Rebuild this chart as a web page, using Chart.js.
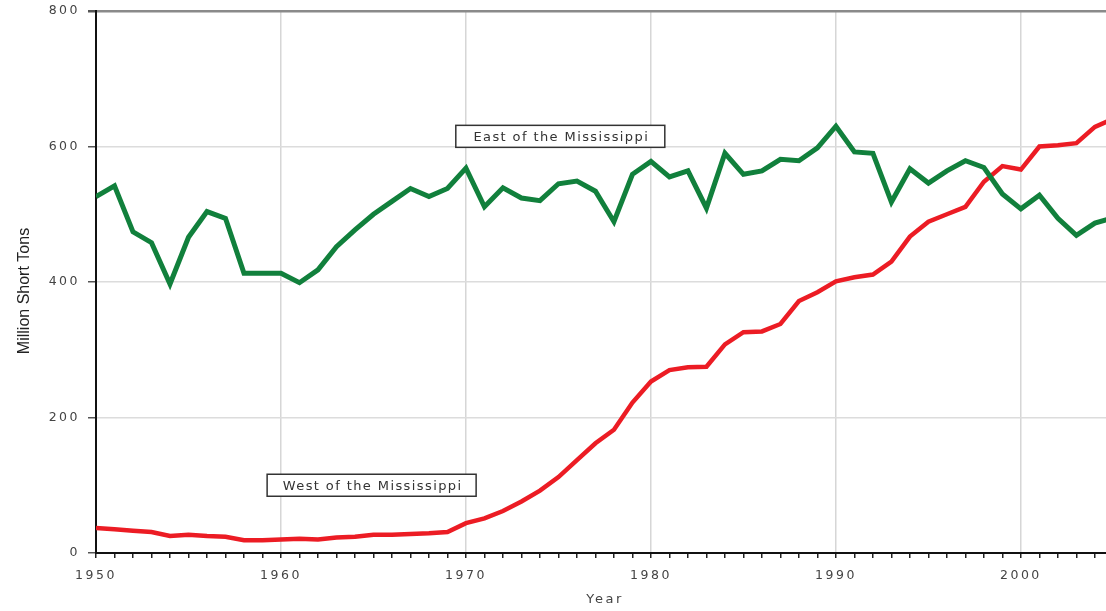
<!DOCTYPE html>
<html>
<head>
<meta charset="utf-8">
<script src="https://cdn.jsdelivr.net/npm/chart.js@4/dist/chart.umd.min.js"></script>
<style>
  html, body { margin: 0; padding: 0; background: #fff; }
  #wrap { position: relative; width: 1106px; height: 611px; }
</style>
</head>
<body>
<div id="wrap"><canvas id="c"></canvas></div>
<script>
/* coal production east / west of the Mississippi, million short tons */
const years = [];
for (let y = 1950; y <= 2005; y++) years.push(y);

const east = [526, 542, 474, 458, 397, 466, 504, 494, 413, 413,
              413, 399, 418, 452, 477, 500, 519, 538, 526, 538,
              568, 511, 539, 524, 520, 545, 549, 534, 489, 559,
              578, 555, 564, 509, 590, 559, 564, 581, 579, 598,
              630, 592, 590, 518, 567, 546, 564, 579, 569, 530,
              508, 528, 494, 469, 487, 495];

const west = [37, 35, 33, 31, 25, 27, 25, 24, 19, 19,
              20, 21, 20, 23, 24, 27, 27, 28, 29, 31,
              44, 51, 62, 76, 92, 112, 137, 162, 182, 222,
              253, 270, 274, 275, 308, 326, 327, 338, 372, 385,
              401, 407, 411, 430, 467, 489, 500, 511, 548, 571,
              566, 600, 602, 605, 629, 641];

const xLabels = [1950, 1960, 1970, 1980, 1990, 2000];
const yTicks = [0, 200, 400, 600, 800];

// boxed series labels, placed in data coordinates
const seriesLabels = [
  { text: 'East of the Mississippi', x: 1975.1, y: 615 },
  { text: 'West of the Mississippi', x: 1964.9, y: 100 },
];

const SANS = '"DejaVu Sans", Verdana, sans-serif';
const TICK_FONT = { family: SANS, size: 12.5 };

// wide lettering like the source image (tick labels)
const spacing = {
  id: 'spacing',
  beforeDraw(chart) { chart.ctx.letterSpacing = '2.5px'; },
};

// axis titles + boxed labels, drawn by hand so the spacing can differ
const extras = {
  id: 'extras',
  afterDraw(chart) {
    const ctx = chart.ctx, xs = chart.scales.x, ys = chart.scales.y, a = chart.chartArea;
    ctx.save();
    ctx.textAlign = 'center';
    ctx.textBaseline = 'middle';

    ctx.letterSpacing = '2.5px';
    ctx.fillStyle = '#444';
    ctx.font = '13px ' + SANS;
    ctx.fillText('Year', (a.left + a.right) / 2 + 4, 600);

    ctx.letterSpacing = '0px';
    ctx.fillStyle = '#222';
    ctx.font = '16px "Liberation Sans Narrow", "Arial Narrow", "Liberation Sans", sans-serif';
    ctx.save();
    ctx.translate(25, 291);
    ctx.rotate(-Math.PI / 2);
    ctx.fillText('Million Short Tons', 0, 0);
    ctx.restore();

    ctx.letterSpacing = '1.4px';
    ctx.font = '13px ' + SANS;
    seriesLabels.forEach(function (l) {
      const cx = xs.getPixelForValue(l.x), cy = ys.getPixelForValue(l.y);
      const w = 209, h = 22;
      ctx.fillStyle = '#fff';
      ctx.fillRect(cx - w / 2, cy - h / 2, w, h);
      ctx.strokeStyle = '#333';
      ctx.lineWidth = 1.5;
      ctx.strokeRect(cx - w / 2, cy - h / 2, w, h);
      ctx.fillStyle = '#333';
      ctx.fillText(l.text, cx + 1, cy + 1);
    });
    ctx.restore();
  },
};

new Chart(document.getElementById('c'), {
  type: 'line',
  data: {
    labels: years,
    datasets: [
      { label: 'East of the Mississippi', data: years.map(function (y, i) { return { x: y, y: east[i] }; }),
        borderColor: '#11803c', borderWidth: 5, pointRadius: 0, tension: 0 },
      { label: 'West of the Mississippi', data: years.map(function (y, i) { return { x: y, y: west[i] }; }),
        borderColor: '#ec1c24', borderWidth: 4.5, pointRadius: 0, tension: 0 },
    ],
  },
  options: {
    responsive: true,
    maintainAspectRatio: false,
    animation: false,
    layout: { padding: { top: 11, right: 0, left: 0, bottom: 0 } },
    plugins: { legend: { display: false }, tooltip: { enabled: false } },
    scales: {
      x: {
        type: 'linear',
        min: 1950, max: 2004.6,
        afterFit: function (s) { s.height = 58; s.paddingLeft = 0; s.paddingRight = 0; },
        ticks: {
          stepSize: 1, autoSkip: false, maxRotation: 0, includeBounds: false,
          color: '#444', font: TICK_FONT, padding: 10,
          callback: function (v) { return xLabels.indexOf(v) >= 0 ? String(v) : ''; },
        },
        grid: {
          color: function (c) { return c.tick && xLabels.indexOf(c.tick.value) >= 0 ? '#d6d6d6' : 'rgba(0,0,0,0)'; },
          lineWidth: 1.5, tickColor: '#222', tickLength: 5, tickWidth: 1.5,
        },
        border: { display: true, color: '#111', width: 2 },
      },
      y: {
        min: 0, max: 800,
        afterFit: function (s) { s.width = 96; s.paddingTop = 0; s.paddingBottom = 0; },
        afterBuildTicks: function (s) { s.ticks = yTicks.map(function (v) { return { value: v }; }); },
        ticks: { color: '#444', font: TICK_FONT, padding: 8 },
        grid: {
          color: function (c) { return c.tick && c.tick.value === 800 ? '#8a8a8a' : '#dcdcdc'; },
          lineWidth: function (c) { return c.tick && c.tick.value === 800 ? 2.5 : 1.5; },
          tickColor: '#555', tickLength: 8,
        },
        border: { display: true, color: '#111', width: 2 },
      },
    },
  },
  plugins: [spacing, extras],
});
</script>
</body>
</html>
